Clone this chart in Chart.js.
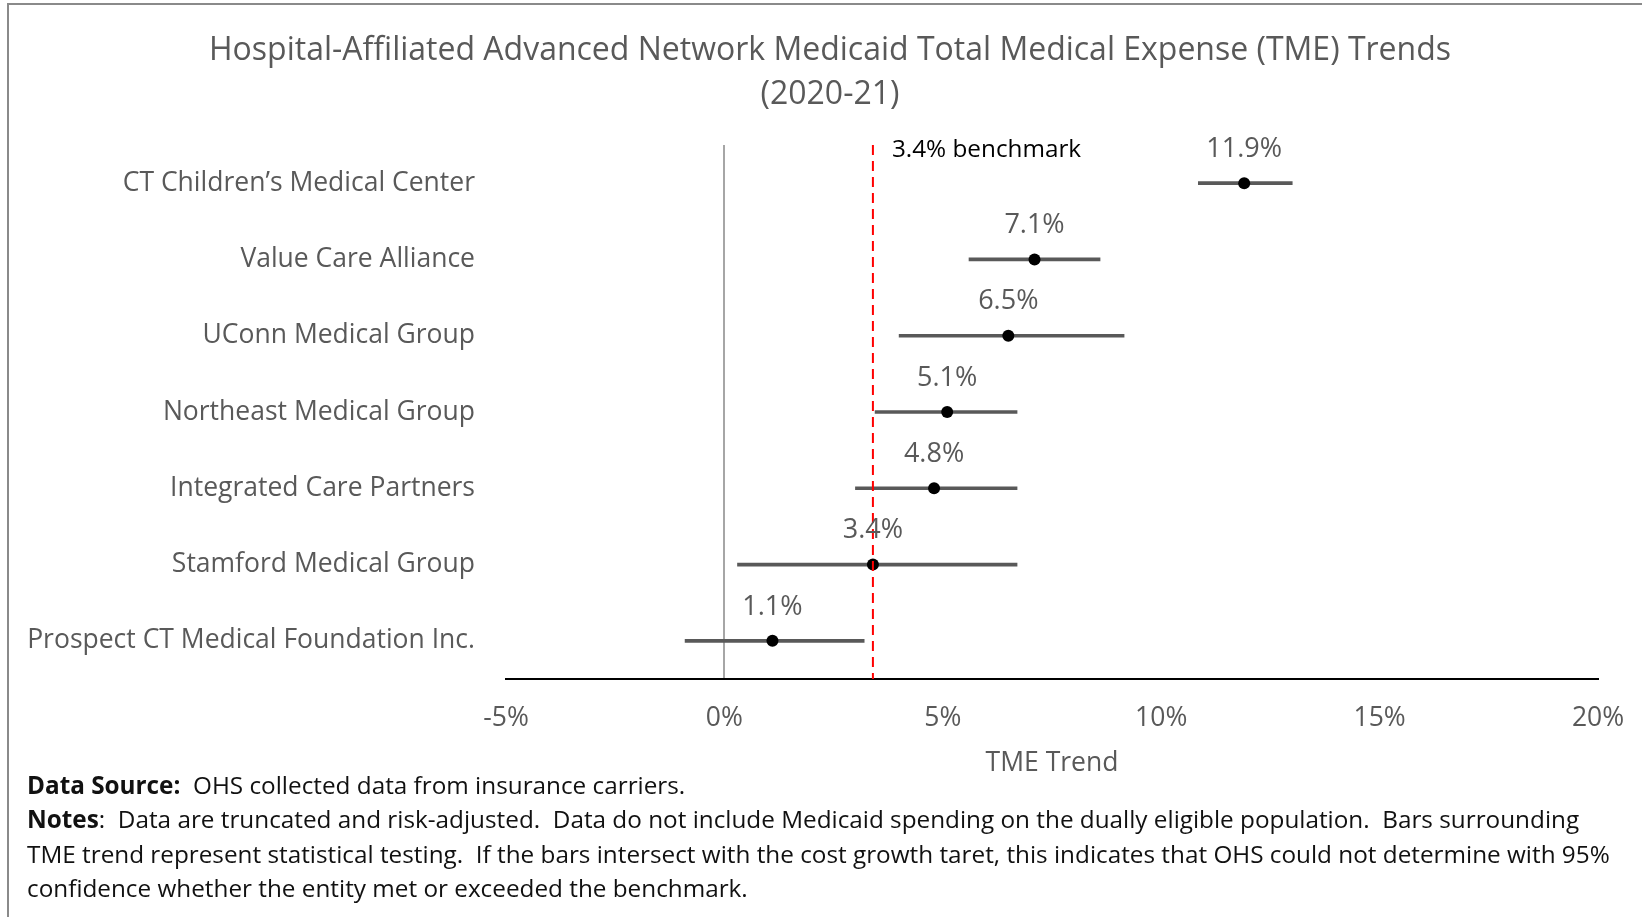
<!DOCTYPE html>
<html>
<head>
<meta charset="utf-8">
<script src="https://cdn.jsdelivr.net/npm/chart.js@4/dist/chart.umd.min.js"></script>
<style>
  html, body { margin: 0; padding: 0; background: #fff; }
  body { width: 1642px; height: 917px; position: relative; overflow: hidden; font-family: "Open Sans", sans-serif; }
  #frame { position: absolute; left: 7px; top: 3px; width: 1640px; height: 920px; border-top: 2px solid #8a8a8a; border-left: 2px solid #8a8a8a; }
  #wrap { position: absolute; left: 0; top: 0; width: 1642px; height: 782px; }
  #notes { position: absolute; left: 27px; top: 768px; font-size: 24.3px; line-height: 34.3px; color: #111; white-space: pre; }
  #notes b { font-weight: 700; }
</style>
</head>
<body>
<div id="frame"></div>
<div id="wrap"><canvas id="c"></canvas></div>
<div id="notes"><b>Data Source:</b>  OHS collected data from insurance carriers.
<b>Notes</b>:  Data are truncated and risk-adjusted.  Data do not include Medicaid spending on the dually eligible population.  Bars surrounding
TME trend represent statistical testing.  If the bars intersect with the cost growth taret, this indicates that OHS could not determine with 95%
confidence whether the entity met or exceeded the benchmark.</div>
<script>
const categories = [
  "CT Children\u2019s Medical Center",
  "Value Care Alliance",
  "UConn Medical Group",
  "Northeast Medical Group",
  "Integrated Care Partners",
  "Stamford Medical Group",
  "Prospect CT Medical Foundation Inc."
];
const tmeTrend = [11.9, 7.1, 6.5, 5.1, 4.8, 3.4, 1.1];
const lowerBound = [10.85, 5.6, 4.0, 3.45, 3.0, 0.3, -0.9];
const upperBound = [13.0, 8.6, 9.15, 6.7, 6.7, 6.7, 3.2];
const benchmark = 3.4;
const xTicks = [-5, 0, 5, 10, 15, 20];

const intervals = lowerBound.map((lo, i) => [lo, upperBound[i]]);

const titleShift = {
  id: 'titleShift',
  afterLayout(chart) {
    if (chart.titleBlock) chart.titleBlock.left = 62;
  }
};

const annotate = {
  id: 'annotate',
  afterDatasetsDraw(chart) {
    const {ctx, chartArea, scales} = chart;
    const bx = scales.x.getPixelForValue(benchmark);
    ctx.save();
    ctx.strokeStyle = '#ff0000';
    ctx.lineWidth = 2;
    ctx.setLineDash([10, 6]);
    ctx.beginPath();
    ctx.moveTo(bx, chartArea.top);
    ctx.lineTo(bx, chartArea.bottom);
    ctx.stroke();
    ctx.setLineDash([]);
    ctx.fillStyle = '#000';
    ctx.font = '24.3px "Open Sans"';
    ctx.textAlign = 'left';
    ctx.textBaseline = 'middle';
    ctx.fillText(benchmark.toFixed(1) + '% benchmark', bx + 19, chartArea.top + 5);
    const meta = chart.getDatasetMeta(1);
    ctx.fillStyle = '#595959';
    ctx.font = '27px "Open Sans"';
    ctx.textAlign = 'center';
    meta.data.forEach((pt, i) => {
      ctx.fillText(tmeTrend[i].toFixed(1) + '%', pt.x, pt.y - 34);
    });
    ctx.restore();
  }
};

new Chart(document.getElementById('c'), {
  type: 'bar',
  data: {
    labels: categories,
    datasets: [
      {
        type: 'bar',
        data: intervals,
        backgroundColor: '#595959',
        barThickness: 3,
        order: 1
      },
      {
        type: 'line',
        data: tmeTrend,
        showLine: false,
        pointRadius: 6,
        pointBackgroundColor: '#000',
        pointBorderColor: '#000',
        pointBorderWidth: 0,
        order: 0
      }
    ]
  },
  options: {
    indexAxis: 'y',
    responsive: true,
    maintainAspectRatio: false,
    animation: false,
    layout: { padding: { left: 0, right: 44, top: 0, bottom: 0 } },
    plugins: {
      legend: { display: false },
      tooltip: { enabled: false },
      title: {
        display: true,
        text: ['Hospital-Affiliated Advanced Network Medicaid Total Medical Expense (TME) Trends', '(2020-21)'],
        color: '#595959',
        font: { family: '"Open Sans"', size: 32, weight: 'normal', lineHeight: 1.375 },
        padding: { top: 29, bottom: 28 }
      }
    },
    scales: {
      x: {
        type: 'linear',
        min: xTicks[0],
        max: xTicks[xTicks.length - 1],
        afterBuildTicks(scale) { scale.ticks = xTicks.map(v => ({ value: v })); },
        afterFit(scale) { scale.height = 103; scale.paddingLeft = 0; scale.paddingRight = 0; },
        ticks: {
          callback: v => v + '%',
          color: '#595959',
          font: { family: '"Open Sans"', size: 26.5, lineHeight: 1.2 },
          padding: 24
        },
        grid: {
          drawTicks: false,
          color: ctx => (ctx.tick && ctx.tick.value === 0) ? '#a6a6a6' : 'rgba(0,0,0,0)',
          lineWidth: 2
        },
        border: { display: true, color: '#000', width: 2 },
        title: {
          display: true,
          text: 'TME Trend',
          color: '#595959',
          font: { family: '"Open Sans"', size: 26.5, lineHeight: 1.2 },
          padding: { top: 10, bottom: 3 }
        }
      },
      y: {
        type: 'category',
        afterFit(scale) { scale.width = 506; },
        ticks: {
          color: '#595959',
          font: { family: '"Open Sans"', size: 26.5 },
          padding: 31
        },
        grid: { display: false, drawTicks: false },
        border: { display: false }
      }
    }
  },
  plugins: [titleShift, annotate]
});
</script>
</body>
</html>
